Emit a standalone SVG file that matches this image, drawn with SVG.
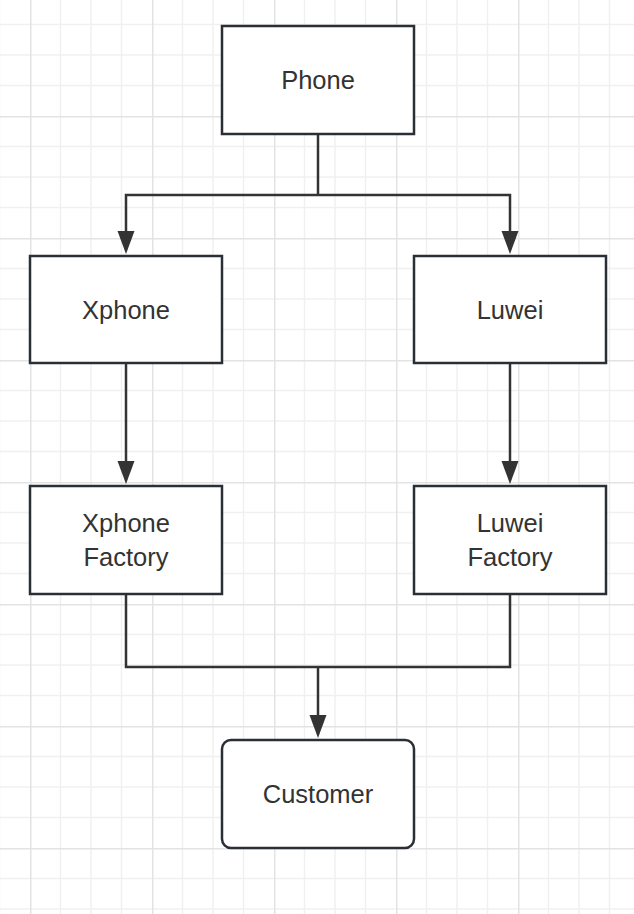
<svg xmlns="http://www.w3.org/2000/svg" width="634" height="914" viewBox="0 0 634 914">
  <defs>
    <pattern id="grid" patternUnits="userSpaceOnUse" x="30" y="116" width="122" height="122">
      <g stroke="#f0f0f0" stroke-width="1.5">
        <line x1="30.5" y1="0" x2="30.5" y2="122"/>
        <line x1="61" y1="0" x2="61" y2="122"/>
        <line x1="91.5" y1="0" x2="91.5" y2="122"/>
        <line x1="0" y1="30.5" x2="122" y2="30.5"/>
        <line x1="0" y1="61" x2="122" y2="61"/>
        <line x1="0" y1="91.5" x2="122" y2="91.5"/>
      </g>
      <g stroke="#e3e3e3" stroke-width="1.5">
        <line x1="0.75" y1="0" x2="0.75" y2="122"/>
        <line x1="0" y1="0.75" x2="122" y2="0.75"/>
      </g>
    </pattern>
    <style>
      .node rect { fill: #ffffff; stroke: #2a2f36; stroke-width: 2.5; }
      .node text { font-family: "Liberation Sans", Arial, sans-serif; font-size: 25.5px; fill: #333333; text-anchor: middle; }
      .conn { fill: none; stroke: #333333; stroke-width: 2.5; }
      .head { fill: #333333; }
    </style>
  </defs>
  <rect x="0" y="0" width="634" height="914" fill="#ffffff"/>
  <rect x="0" y="0" width="634" height="914" fill="url(#grid)"/>

  <g id="connectors">
    <path class="conn" d="M318,134 L318,195"/>
    <path class="conn" d="M318,195 L126,195 L126,231"/>
    <path class="conn" d="M318,195 L510,195 L510,231"/>
    <path class="conn" d="M126,363 L126,461"/>
    <path class="conn" d="M510,363 L510,461"/>
    <path class="conn" d="M126,594 L126,667 L510,667 L510,594"/>
    <path class="conn" d="M318,667 L318,715"/>
    <path class="head" d="M117.5,231 L134.5,231 L126,254 Z"/>
    <path class="head" d="M501.5,231 L518.5,231 L510,254 Z"/>
    <path class="head" d="M117.5,461 L134.5,461 L126,484 Z"/>
    <path class="head" d="M501.5,461 L518.5,461 L510,484 Z"/>
    <path class="head" d="M309.5,715 L326.5,715 L318,738 Z"/>
  </g>

  <g id="phone" class="node">
    <rect x="222" y="26" width="192" height="108"/>
    <text x="318" y="89">Phone</text>
  </g>
  <g id="xphone" class="node">
    <rect x="30" y="256" width="192" height="107"/>
    <text x="126" y="319">Xphone</text>
  </g>
  <g id="luwei" class="node">
    <rect x="414" y="256" width="192" height="107"/>
    <text x="510" y="319">Luwei</text>
  </g>
  <g id="xphone-factory" class="node">
    <rect x="30" y="486" width="192" height="108"/>
    <text x="126" y="532">Xphone</text>
    <text x="126" y="565.5">Factory</text>
  </g>
  <g id="luwei-factory" class="node">
    <rect x="414" y="486" width="192" height="108"/>
    <text x="510" y="532">Luwei</text>
    <text x="510" y="565.5">Factory</text>
  </g>
  <g id="customer" class="node">
    <rect x="222" y="740" width="192" height="108" rx="9" ry="9"/>
    <text x="318" y="803">Customer</text>
  </g>
</svg>
